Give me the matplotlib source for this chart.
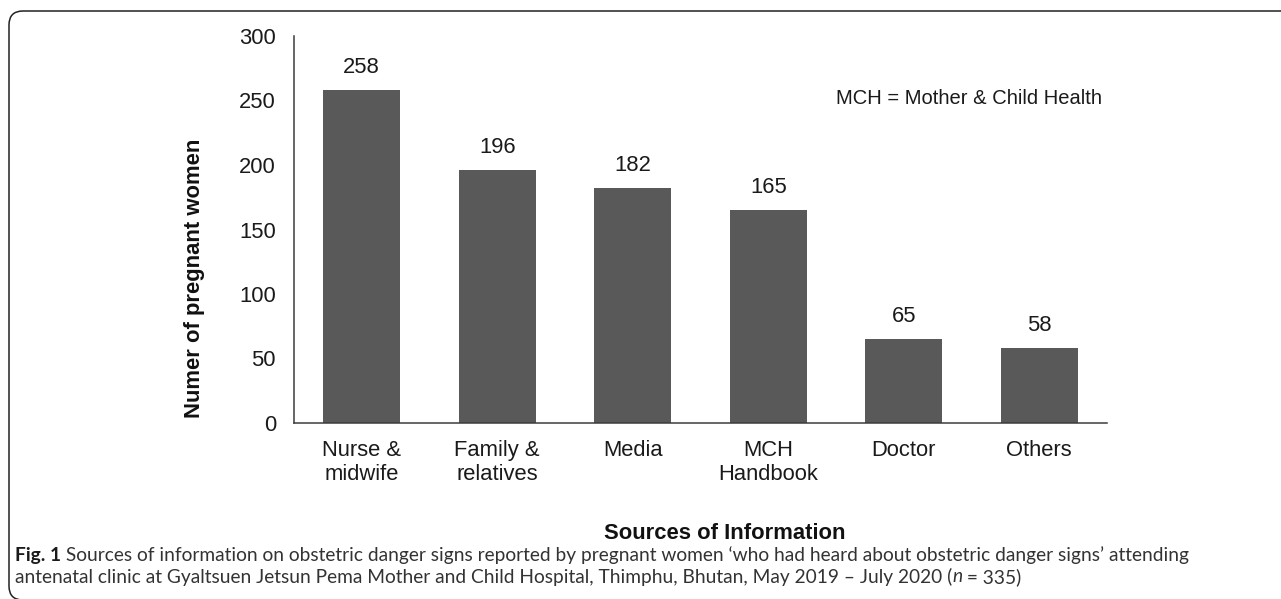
import matplotlib
matplotlib.use('Agg')
import matplotlib.pyplot as plt
from matplotlib.patches import FancyBboxPatch
from matplotlib.transforms import IdentityTransform

categories = ['Nurse &\nmidwife', 'Family &\nrelatives', 'Media', 'MCH\nHandbook', 'Doctor', 'Others']
counts = [258, 196, 182, 165, 65, 58]
yticks = [0, 50, 100, 150, 200, 250, 300]

W, H = 1281, 599
bar_color = '#595959'
axis_color = '#3c3c3c'
fs = 15.8
plt.rcParams['font.family'] = ['Liberation Sans', 'DejaVu Sans']

fig = plt.figure(figsize=(W / 100, H / 100), dpi=100)
ax = fig.add_axes([294 / W, 1 - 423 / H, (1107 - 294) / W, (423 - 36) / H])

x = range(len(categories))
ax.bar(x, counts, width=0.57, color=bar_color, zorder=2)
for xi, v in zip(x, counts):
    ax.annotate(str(v), (xi, v), xytext=(0, 16), textcoords='offset points',
                ha='center', va='center', fontsize=fs, color='#1a1a1a')

ax.set_xlim(-0.5, len(categories) - 0.5)
ax.set_ylim(0, 300)
ax.set_yticks(yticks)
ax.set_xticks(list(x))
ax.set_xticklabels(categories, linespacing=1.2)
ax.tick_params(axis='both', length=0, labelsize=fs, labelcolor='#1a1a1a')
ax.tick_params(axis='y', pad=13)
ax.tick_params(axis='x', pad=12)

for side in ['top', 'right']:
    ax.spines[side].set_visible(False)
for side in ['left', 'bottom']:
    ax.spines[side].set_color(axis_color)
    ax.spines[side].set_linewidth(1.1)

ax.set_ylabel('Numer of pregnant women', fontsize=fs, fontweight='bold', color='#111111')
ax.yaxis.set_label_coords((205 - 294) / 813, (423 - 278) / 387)
ax.set_xlabel('Sources of Information', fontsize=fs, fontweight='bold', color='#111111')
ax.xaxis.set_label_coords((725 - 294) / 813, (423 - 523) / 387)

ax.text(0.994, (423 - 99) / 387, 'MCH = Mother & Child Health', transform=ax.transAxes,
        ha='right', va='center', fontsize=14.5, color='#1a1a1a')

# rounded frame, open at the right and bottom
frame = FancyBboxPatch((9, -1), 1320, H - 11 + 1, boxstyle='round,pad=0,rounding_size=14',
                       transform=IdentityTransform(), fill=False, edgecolor='#222222',
                       linewidth=1.1, clip_on=False)
fig.add_artist(frame)

# caption, written run by run
renderer = fig.canvas.get_renderer()
cap_family = ['Lato', 'DejaVu Sans']


def put_runs(x0, y0, runs, size):
    xf = x0 / W
    made = []
    for s, kw in runs:
        t = fig.text(xf, 1 - y0 / H, s, va='center', ha='left', fontsize=size,
                     family=cap_family, **kw)
        made.append(t)
        xf += t.get_window_extent(renderer=renderer).width / W
    return made, xf * W - x0


plain = {'color': '#333333'}
line1 = [
    ('Fig. 1', {'fontweight': 'bold', 'color': '#1a1a1a'}),
    (' Sources of information on obstetric danger signs reported by pregnant women '
     '\u2018who had heard about obstetric danger signs\u2019 attending', plain),
]
line2 = [
    ('antenatal clinic at Gyaltsuen Jetsun Pema Mother and Child Hospital, Thimphu, '
     'Bhutan, May 2019 \u2013 July 2020 (', plain),
    ('n', {'color': '#333333', 'style': 'italic'}),
    (' = 335)', plain),
]

# size the caption so the first line runs to the same width as the original
trial, wpx = put_runs(15, 555, line1, 12)
for t in trial:
    t.remove()
cap_size = 12 * 1173 / wpx
put_runs(15, 555, line1, cap_size)
put_runs(15, 577, line2, cap_size)

fig.savefig('out.png', dpi=100)
